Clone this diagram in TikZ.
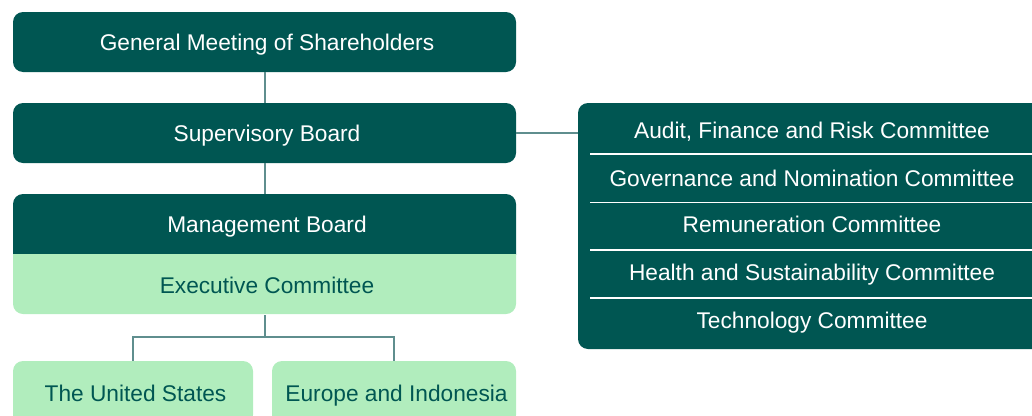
\documentclass[tikz,border=0pt]{standalone}
\usepackage{fontspec}
\setmainfont{Liberation Sans}
\definecolor{darkteal}{HTML}{005652}
\definecolor{lightgreen}{HTML}{B1EDBD}
\definecolor{linecol}{HTML}{5F8E8E}
\tikzset{
  ctr/.style={text height=16.3pt, text depth=0pt},
  nudge/.style={execute at begin node={\hspace*{5pt}}},
  darkbox/.style={ctr, nudge, fill=darkteal, text=white, rounded corners=10pt, minimum width=503pt, minimum height=60pt, inner sep=0pt},
  lightbox/.style={ctr, nudge, fill=lightgreen, text=darkteal, rounded corners=10pt, minimum height=64pt, inner sep=0pt},
  txt/.style={ctr, nudge, inner sep=0pt, minimum width=503pt, minimum height=60pt},
  comtxt/.style={ctr, text=white, inner sep=0pt},
  conn/.style={draw=linecol, line width=2pt},
  sep/.style={draw=white, line width=1.5pt},
}
\begin{document}
\begin{tikzpicture}[x=1pt, y=-1pt, font=\fontsize{22.7}{26}\selectfont]
\useasboundingbox (0,0) rectangle (1032,415);
\clip (0,0) rectangle (1032,415);
% top boxes
\node[darkbox] (gm) at (264.5,42) {General Meeting of Shareholders};
\node[darkbox] (sb) at (264.5,133) {Supervisory Board};
% management board / executive committee combined shape
\begin{scope}
  \clip (13,194) rectangle (516,254);
  \fill[darkteal, rounded corners=10pt] (13,194) rectangle (516,274);
\end{scope}
\begin{scope}
  \clip (13,254) rectangle (516,314);
  \fill[lightgreen, rounded corners=10pt] (13,234) rectangle (516,314);
\end{scope}
\node[txt, text=white] (mb) at (264.5,224) {Management Board};
\node[txt, text=darkteal] (ec) at (264.5,285) {Executive Committee};
% regions
\node[lightbox, minimum width=240pt] (us) at (133,393) {The United States};
\node[lightbox, minimum width=244pt] (eu) at (394,393) {Europe and Indonesia};
% committees
\node[fill=darkteal, rounded corners=10pt, minimum width=480pt, minimum height=246pt, inner sep=0pt] (comm) at (818,226) {};
\node[comtxt] (c1) at (812,130) {Audit, Finance and Risk Committee};
\node[comtxt] (c2) at (812,178) {Governance and Nomination Committee};
\node[comtxt] (c3) at (812,224) {Remuneration Committee};
\node[comtxt] (c4) at (812,272) {Health and Sustainability Committee};
\node[comtxt] (c5) at (812,320) {Technology Committee};
\coordinate (s1) at (590,154);
\coordinate (s2) at (590,202.5);
\coordinate (s3) at (590,250);
\coordinate (s4) at (590,298);
\foreach \s in {s1,s2,s3,s4} \draw[sep] (\s) -- (\s -| comm.east);
% connectors
\draw[conn] (gm.south) -- (sb.north);
\draw[conn] (sb.south) -- (mb.north);
\draw[conn] (sb.east) -- (sb.east -| comm.west);
\coordinate (split) at (264.5,337);
\draw[conn] (ec.south) -- (split) -| (us.north);
\draw[conn] (split) -| (eu.north);
\end{tikzpicture}
\end{document}
